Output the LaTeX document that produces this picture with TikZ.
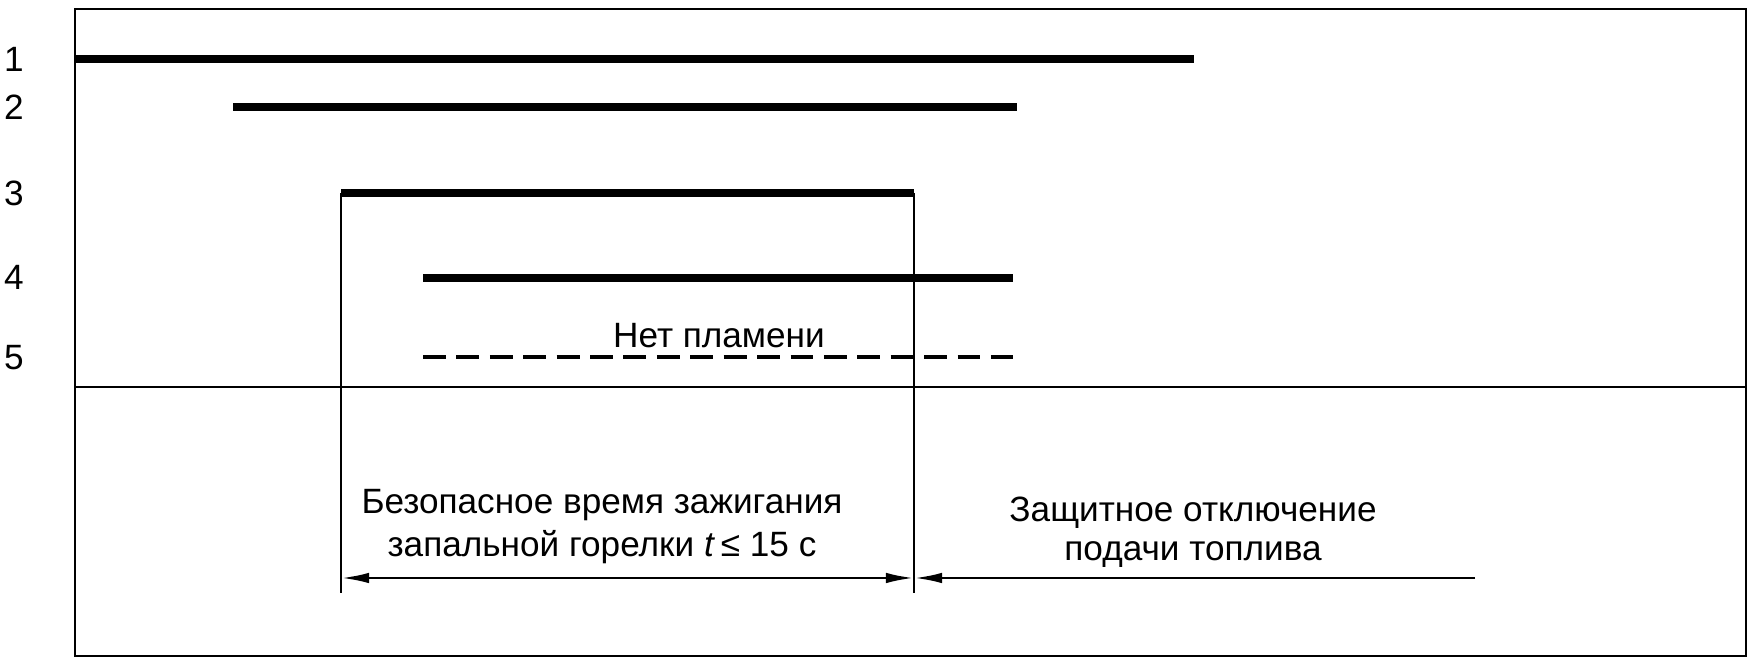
\documentclass[tikz,border=0pt]{standalone}
\usepackage{fontspec}
\setmainfont{Liberation Sans}
\usetikzlibrary{arrows.meta}
\begin{document}
\begin{tikzpicture}[x=0.01cm,y=-0.01cm,
  thinline/.style={line width=0.8pt},
  barline/.style={line width=2.1pt},
  dashline/.style={line width=0.9pt,dash pattern=on 6.5pt off 3pt},
  tip/.tip={Latex[length=8pt,width=3pt]},
  dimarrow/.style={line width=0.8pt,-tip},
  lbl/.style={inner sep=0pt,font=\fontsize{10}{12.2}\selectfont},
  txt/.style={inner sep=0pt,align=center,font=\fontsize{10}{12.2}\selectfont},
  txtb/.style={inner sep=0pt,align=center,font=\fontsize{10}{11}\selectfont}]
\useasboundingbox (0,0) rectangle (1755,665);
% frame
\coordinate (fTL) at (75,9);
\coordinate (fBR) at (1746,656);
\draw[thinline] (fTL) rectangle (fBR);
\coordinate (dL) at (75,387);
\coordinate (dR) at (1746,387);
\draw[thinline] (dL) -- (dR);
% row labels
\node[lbl] (n1) at (14,59) {1};
\node[lbl] (n2) at (14,107) {2};
\node[lbl] (n3) at (14,193) {3};
\node[lbl] (n4) at (14,277) {4};
\node[lbl] (n5) at (14,358) {5};
% bars
\coordinate (l1a) at (75,59);   \coordinate (l1b) at (1194,59);
\coordinate (l2a) at (233,107); \coordinate (l2b) at (1017,107);
\coordinate (l3a) at (341,193); \coordinate (l3b) at (914,193);
\coordinate (l4a) at (423,278); \coordinate (l4b) at (1013,278);
\coordinate (l5a) at (423,357); \coordinate (l5b) at (1013,357);
\draw[barline] (l1a) -- (l1b);
\draw[barline] (l2a) -- (l2b);
\draw[barline] (l3a) -- (l3b);
\draw[barline] (l4a) -- (l4b);
\draw[dashline] (l5a) -- (l5b);
\node[lbl] (nf) at (719,336) {Нет пламени};
% verticals
\coordinate (vL) at (341,593);
\coordinate (vR) at (914,593);
\draw[thinline] (l3a) -- (vL);
\draw[thinline] (l3b) -- (vR);
% dimension arrows
\coordinate (aL) at (341,578);
\coordinate (aR) at (914,578);
\coordinate (aE) at (1475,578);
\draw[dimarrow,tip-tip] (aL) -- (aR);
\draw[dimarrow] (aE) -- (aR);
\node[txt] (t1) at (602,527) {Безопасное время зажигания\\запальной горелки \textit{t}\,≤ 15 с};
\node[txtb] (t2) at (1193,532) {Защитное отключение\\подачи топлива};
\end{tikzpicture}
\end{document}
